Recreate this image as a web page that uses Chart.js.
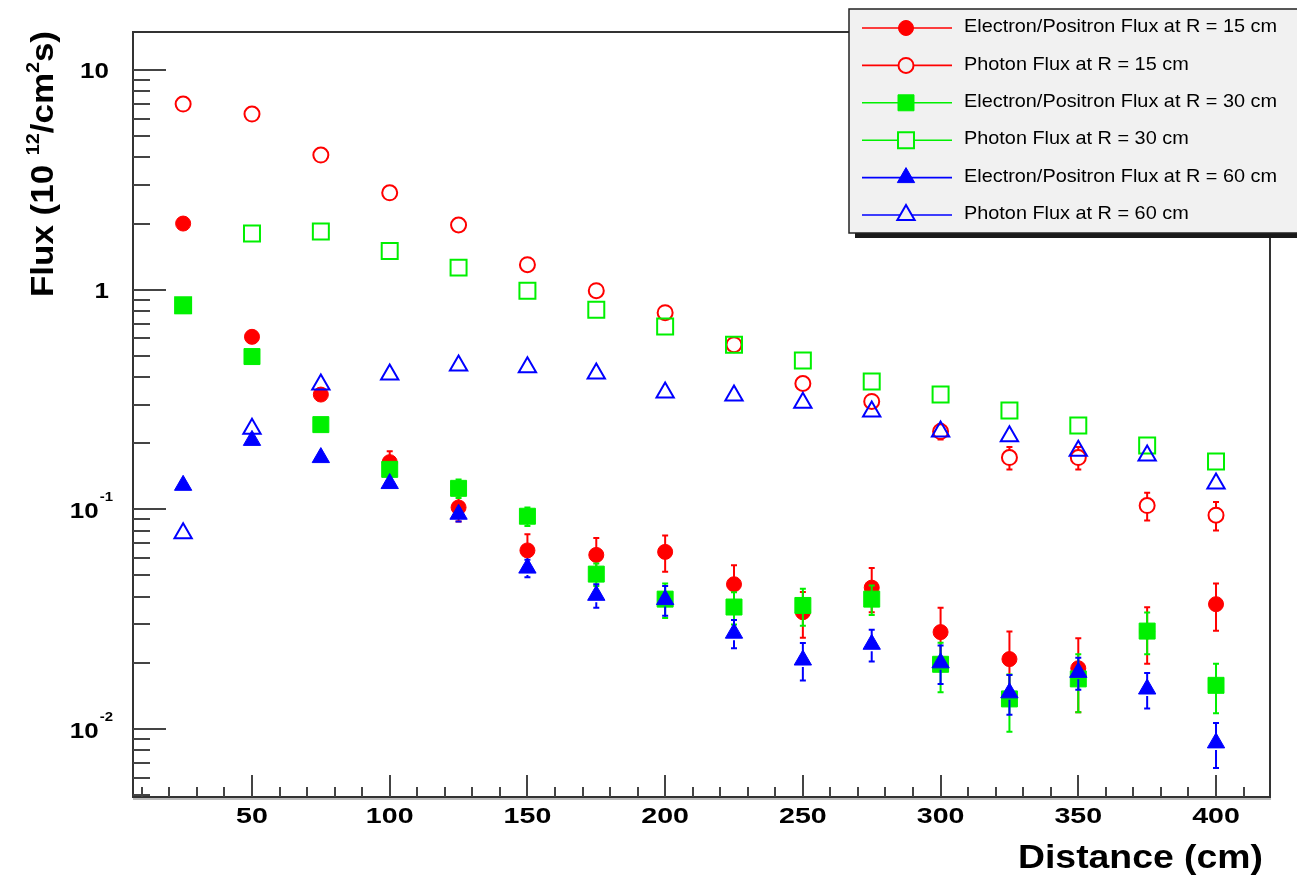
<!DOCTYPE html>
<html>
<head>
<meta charset="utf-8">
<script src="https://cdn.jsdelivr.net/npm/chart.js@4.4.1/dist/chart.umd.min.js"></script>
<style>
html, body { margin: 0; padding: 0; background: #fff; }
#wrap { width: 1297px; height: 879px; }
</style>
</head>
<body>
<div id="wrap"><canvas id="chart" width="1297" height="879"></canvas></div>
<script>
const distances = [25, 50, 75, 100, 125, 150, 175, 200, 225, 250, 275, 300, 325, 350, 375, 400];

const epFlux15 = [2.0, 0.61, 0.333, 0.164, 0.102, 0.065, 0.062, 0.064, 0.0456, 0.034, 0.044, 0.0276, 0.0208, 0.0189, 0.0278, 0.037];
const epFlux15Err = [0.05, 0.03, 0.02, 0.02, 0.014, 0.012, 0.012, 0.012, 0.010, 0.008, 0.010, 0.008, 0.007, 0.007, 0.008, 0.009];

const photonFlux15 = [7.0, 6.3, 4.1, 2.76, 1.97, 1.30, 0.99, 0.786, 0.562, 0.374, 0.31, 0.226, 0.172, 0.172, 0.104, 0.094];
const photonFlux15Err = [0.1, 0.1, 0.08, 0.06, 0.05, 0.04, 0.03, 0.03, 0.025, 0.02, 0.02, 0.018, 0.02, 0.02, 0.015, 0.014];

const epFlux30 = [0.846, 0.496, 0.243, 0.152, 0.1246, 0.093, 0.0507, 0.039, 0.0359, 0.0365, 0.039, 0.0197, 0.0137, 0.0169, 0.0279, 0.0158];
const epFlux30Err = [0.02, 0.015, 0.01, 0.008, 0.012, 0.009, 0.006, 0.007, 0.006, 0.007, 0.006, 0.005, 0.004, 0.005, 0.006, 0.004];

const photonFlux30 = [0.85, 1.80, 1.84, 1.50, 1.26, 0.99, 0.81, 0.68, 0.562, 0.476, 0.382, 0.333, 0.282, 0.241, 0.195, 0.165];
const photonFlux30Err = [0.03, 0.05, 0.05, 0.04, 0.04, 0.03, 0.03, 0.02, 0.02, 0.015, 0.015, 0.012, 0.012, 0.012, 0.01, 0.01];

const epFlux60 = [0.1286, 0.206, 0.172, 0.131, 0.095, 0.054, 0.0406, 0.0388, 0.0273, 0.0206, 0.0243, 0.0200, 0.0146, 0.0181, 0.0152, 0.00864];
const epFlux60Err = [0.008, 0.01, 0.008, 0.007, 0.007, 0.005, 0.005, 0.006, 0.004, 0.004, 0.004, 0.004, 0.003, 0.003, 0.0028, 0.002];

const photonFlux60 = [0.0778, 0.233, 0.37, 0.411, 0.452, 0.443, 0.415, 0.34, 0.33, 0.306, 0.279, 0.226, 0.215, 0.185, 0.176, 0.131];
const photonFlux60Err = [0.004, 0.01, 0.015, 0.015, 0.015, 0.015, 0.015, 0.012, 0.012, 0.012, 0.01, 0.01, 0.01, 0.01, 0.01, 0.008];

const seriesLabels = [
    "Electron/Positron Flux at R = 15 cm",
    "Photon Flux at R = 15 cm",
    "Electron/Positron Flux at R = 30 cm",
    "Photon Flux at R = 30 cm",
    "Electron/Positron Flux at R = 60 cm",
    "Photon Flux at R = 60 cm"
];

const xTickValues = [50, 100, 150, 200, 250, 300, 350, 400];
const xTickLabels = ["50", "100", "150", "200", "250", "300", "350", "400"];
const yTickValues = [0.01, 0.1, 1, 10];
const yTickLabels = [["10", "-2"], ["10", "-1"], ["1", ""], ["10", ""]];

const RED = "#ff0000", GREEN = "#00f000", BLUE = "#0000ff";
const FONT = "'Liberation Sans', Arial, Helvetica, sans-serif";

function points(values) {
    return distances.map((d, i) => ({ x: d, y: values[i] }));
}

function series(i, values, errors, color, style, filled, radius) {
    return {
        label: seriesLabels[i],
        data: points(values),
        errors: errors,
        order: 10 - i,
        showLine: false,
        pointStyle: style,
        pointRadius: radius,
        pointBackgroundColor: filled ? color : "rgba(0,0,0,0)",
        pointBorderColor: color,
        pointBorderWidth: filled ? 1 : 2,
        borderColor: color,
        backgroundColor: filled ? color : "rgba(0,0,0,0)"
    };
}

function drawText(ctx, str, x, y, font, align, baseline, sx) {
    ctx.save();
    ctx.translate(x, y);
    ctx.scale(sx, 1);
    ctx.font = font;
    ctx.textAlign = align;
    ctx.textBaseline = baseline;
    ctx.fillText(str, 0, 0);
    ctx.restore();
}

const rootStyle = {
    id: "rootStyle",
    beforeDraw(chart) {
        const ctx = chart.ctx;
        ctx.save();
        ctx.fillStyle = "#ffffff";
        ctx.fillRect(0, 0, chart.width, chart.height);
        ctx.restore();
    },
    beforeDatasetsDraw(chart) {
        const ctx = chart.ctx;
        const a = chart.chartArea;
        const xs = chart.scales.x, ys = chart.scales.y;
        ctx.save();
        // frame
        ctx.strokeStyle = "#bbbbbb";
        ctx.lineWidth = 2;
        ctx.beginPath();
        ctx.moveTo(a.left, a.bottom + 2);
        ctx.lineTo(a.right + 1, a.bottom + 2);
        ctx.stroke();
        ctx.strokeStyle = "#333333";
        ctx.lineWidth = 2;
        ctx.strokeRect(a.left, a.top, a.right - a.left, a.bottom - a.top);

        // y ticks (log)
        ctx.lineWidth = 2;
        ctx.strokeStyle = "#444444";
        for (let k = -3; k <= 1; k++) {
            for (let m = 1; m <= 9; m++) {
                const v = m * Math.pow(10, k);
                if (v < ys.min || v > ys.max) continue;
                const py = Math.round(ys.getPixelForValue(v));
                const len = m === 1 ? 33 : 17;
                ctx.beginPath();
                ctx.moveTo(a.left, py);
                ctx.lineTo(a.left + len, py);
                ctx.stroke();
            }
        }
        // x ticks
        for (let v = 10; v <= xs.max; v += 10) {
            const px = Math.round(xs.getPixelForValue(v));
            const len = v % 50 === 0 ? 22 : 10;
            ctx.beginPath();
            ctx.moveTo(px, a.bottom);
            ctx.lineTo(px, a.bottom - len);
            ctx.stroke();
        }
        ctx.restore();
    },
    beforeDatasetDraw(chart, args) {
        const ds = chart.data.datasets[args.index];
        const ctx = chart.ctx;
        const a = chart.chartArea;
        const xs = chart.scales.x, ys = chart.scales.y;
        ctx.save();
        ctx.beginPath();
        ctx.rect(a.left, a.top, a.right - a.left, a.bottom - a.top);
        ctx.clip();
        ctx.strokeStyle = ds.borderColor;
        ctx.lineWidth = 2;
        const gap = 7;
        ds.data.forEach((p, i) => {
            const e = ds.errors[i];
            const px = xs.getPixelForValue(p.x);
            const py = ys.getPixelForValue(p.y);
            const top = ys.getPixelForValue(p.y + e);
            const bot = ys.getPixelForValue(Math.max(p.y - e, 1e-6));
            ctx.beginPath();
            if (py - top > gap) {
                ctx.moveTo(px, py - gap); ctx.lineTo(px, top);
                ctx.moveTo(px - 3, top); ctx.lineTo(px + 3, top);
            }
            if (bot - py > gap) {
                ctx.moveTo(px, py + gap); ctx.lineTo(px, bot);
                ctx.moveTo(px - 3, bot); ctx.lineTo(px + 3, bot);
            }
            ctx.stroke();
        });
        ctx.restore();
    },
    afterDraw(chart) {
        const ctx = chart.ctx;
        const a = chart.chartArea;
        const xs = chart.scales.x, ys = chart.scales.y;
        ctx.save();
        ctx.fillStyle = "#000000";

        // y tick labels
        yTickValues.forEach((v, i) => {
            const py = ys.getPixelForValue(v);
            const [base, exp] = yTickLabels[i];
            if (exp) {
                ctx.font = "bold 13px " + FONT;
                const ew = ctx.measureText(exp).width * 1.15;
                drawText(ctx, exp, 113, py - 12, "bold 13px " + FONT, "right", "middle", 1.15);
                drawText(ctx, base, 113 - ew - 1, py + 3, "bold 22px " + FONT, "right", "middle", 1.18);
            } else {
                drawText(ctx, base, 109, py + 2, "bold 22px " + FONT, "right", "middle", 1.18);
            }
        });

        // x tick labels
        xTickValues.forEach((v, i) => {
            const px = xs.getPixelForValue(v);
            drawText(ctx, xTickLabels[i], px, a.bottom + 20, "bold 22px " + FONT, "center", "middle", 1.3);
        });

        // x title
        ctx.font = "bold 34px " + FONT;
        const dw = ctx.measureText("Distance (cm)").width;
        drawText(ctx, "Distance (cm)", 1263, 868, "bold 34px " + FONT, "right", "alphabetic", 245 / dw);

        // y title with superscripts (rotated)
        const parts = [
            ["Flux (10 ", 32, 0],
            ["12", 18, -14],
            ["/cm", 32, 0],
            ["2", 18, -14],
            ["s)", 32, 0]
        ];
        let total = 0;
        parts.forEach(p => { ctx.font = "bold " + p[1] + "px " + FONT; total += ctx.measureText(p[0]).width; });
        const stretch = 266 / total;
        ctx.translate(53, 31);
        ctx.rotate(-Math.PI / 2);
        ctx.scale(stretch, 1);
        ctx.textBaseline = "alphabetic";
        ctx.textAlign = "left";
        let cx = -total;
        parts.forEach(p => {
            ctx.font = "bold " + p[1] + "px " + FONT;
            ctx.fillText(p[0], cx, p[2]);
            cx += ctx.measureText(p[0]).width;
        });
        ctx.restore();

        // legend
        ctx.save();
        const lx = 849, ly = 9, lw = 470, lh = 224;
        ctx.fillStyle = "#1a1a1a";
        ctx.fillRect(lx + 6, ly + 5, lw, lh);
        ctx.fillStyle = "#f1f1f1";
        ctx.fillRect(lx, ly, lw, lh);
        ctx.strokeStyle = "#222222";
        ctx.lineWidth = 1.5;
        ctx.strokeRect(lx, ly, lw, lh);

        ctx.font = "19px " + FONT;
        const sx = 313 / ctx.measureText(seriesLabels[0]).width;
        chart.data.datasets.forEach((ds, i) => {
            const ry = 28 + i * 37.4;
            ctx.strokeStyle = ds.borderColor;
            ctx.lineWidth = 1.6;
            ctx.beginPath();
            ctx.moveTo(862, ry);
            ctx.lineTo(952, ry);
            ctx.stroke();
            const filled = ds.pointBackgroundColor !== "rgba(0,0,0,0)";
            ctx.fillStyle = filled ? ds.pointBackgroundColor : "#f1f1f1";
            ctx.strokeStyle = ds.pointBorderColor;
            ctx.lineWidth = ds.pointBorderWidth;
            Chart.helpers.drawPoint(ctx, {
                pointStyle: ds.pointStyle,
                radius: ds.pointRadius,
                rotation: 0,
                borderWidth: ds.pointBorderWidth
            }, 906, ry);
            ctx.fillStyle = "#000000";
            drawText(ctx, ds.label, 964, ry - 1, "19px " + FONT, "left", "middle", sx);
        });
        ctx.restore();
    }
};

const chartConfig = {
    type: "scatter",
    data: {
        datasets: [
            series(0, epFlux15, epFlux15Err, RED, "circle", true, 7.5),
            series(1, photonFlux15, photonFlux15Err, RED, "circle", false, 7.5),
            series(2, epFlux30, epFlux30Err, GREEN, "rect", true, 11.3),
            series(3, photonFlux30, photonFlux30Err, GREEN, "rect", false, 11.3),
            series(4, epFlux60, epFlux60Err, BLUE, "triangle", true, 10),
            series(5, photonFlux60, photonFlux60Err, BLUE, "triangle", false, 10)
        ]
    },
    options: {
        responsive: false,
        animation: false,
        events: [],
        devicePixelRatio: 1,
        layout: {
            padding: { left: 133, top: 32, right: 27, bottom: 82 }
        },
        plugins: {
            legend: { display: false },
            tooltip: { enabled: false }
        },
        scales: {
            x: { type: "linear", min: 6.8, max: 419.6, display: false },
            y: { type: "logarithmic", min: 0.0049, max: 14.9, display: false }
        }
    },
    plugins: [rootStyle]
};

let ctx = document.getElementById("chart");
let chart = new Chart(ctx, chartConfig);
</script>
</body>
</html>
